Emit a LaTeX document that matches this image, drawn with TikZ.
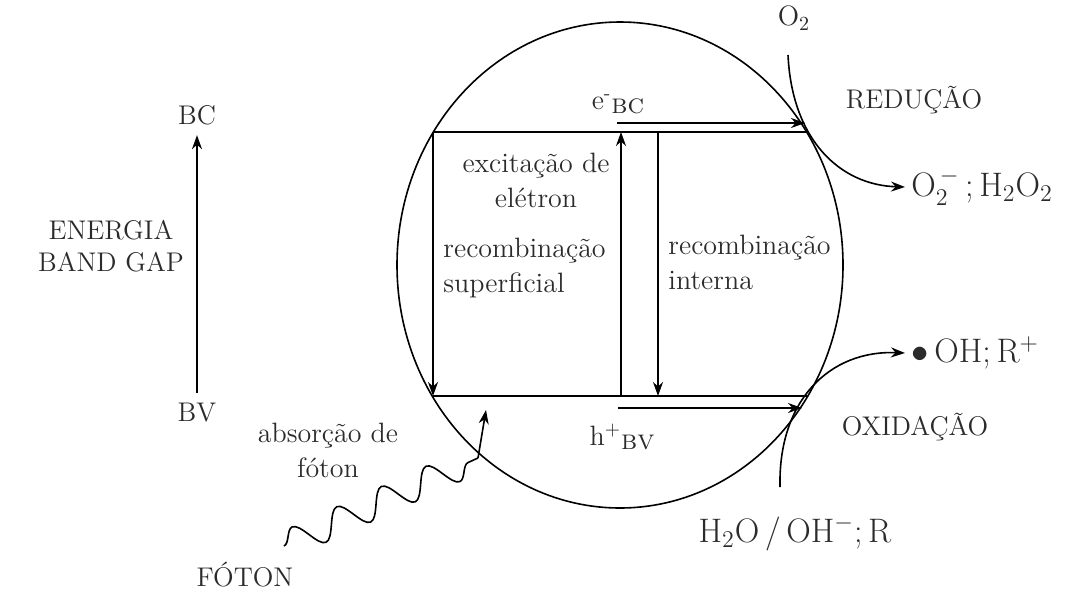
\documentclass[tikz,border=0pt]{standalone}
\usepackage{amsmath}
\usepackage{tikz}
\usetikzlibrary{arrows.meta,decorations.pathmorphing}
\definecolor{inkgrey}{HTML}{2B2B2B}

\begin{document}
\begin{tikzpicture}[
  x=0.5pt, y=-0.5pt,
  lbl/.style={font=\fontsize{14}{17.5}\selectfont\color{inkgrey}, inner sep=0pt},
  caplbl/.style={font=\fontsize{13.5}{16}\selectfont\color{inkgrey}, inner sep=0pt},
  chem/.style={font=\fontsize{17}{20}\selectfont\color{inkgrey}, inner sep=0pt},
  band/.style={line width=1pt},
  arr/.style={line width=0.8pt, -{Stealth[length=7pt, width=5pt]}},
]
\useasboundingbox (0,0) rectangle (1086,590);

% energy axis
\node[caplbl, inner sep=5pt] (bc) at (197,115) {BC};
\node[caplbl, inner sep=5pt] (bv) at (197,413) {BV};
\draw[arr] (bv) -- (bc);
\node[caplbl, align=center] (gap) at (111,246) {ENERGIA\\BAND GAP};

% particle
\draw[line width=0.8pt] (620,265) ellipse [x radius=223, y radius=243];

% bands
\coordinate (bcL) at (433,132);
\coordinate (bcR) at (807,132);
\coordinate (bvL) at (433,396);
\coordinate (bvR) at (807,396);
\draw[band] (bcL) -- (bcR);
\draw[band] (bvL) -- (bvR);

% transitions
\coordinate (exB) at (621,396);
\coordinate (exT) at (621,132);
\coordinate (inT) at (658,132);
\coordinate (inB) at (658,396);
\draw[arr] (bcL) -- (bvL);
\draw[arr] (exB) -- (exT);
\draw[arr] (inT) -- (inB);
\node[lbl, align=center] (exc) at (536,180) {excitação de\\elétron};
\node[lbl, align=left, anchor=west] (sup) at (443,268) {recombinação\\superficial};
\node[lbl, align=left, anchor=west] (int) at (668,262) {recombinação\\interna};

% carriers
\coordinate (eS) at (617,123);
\coordinate (eE) at (805,123);
\coordinate (hS) at (618,408);
\coordinate (hE) at (802,408);
\draw[arr] (eS) -- (eE);
\draw[arr] (hS) -- (hE);
\node[lbl] (eBC) at (618,104) {e\textsuperscript{-}\raisebox{-0.3ex}{\textsc{bc}}};
\node[lbl] (hBV) at (622,437) {h\textsuperscript{+}\raisebox{-0.3ex}{\textsc{bv}}};

% reduction
\node[lbl] (o2) at (794,18) {O$_2$};
\coordinate (o2s) at (788,55);
\node[chem, anchor=west, inner sep=3pt] (redp) at (905,187) {O$_2^{\,-}$\,;\,H$_2$O$_2$};
\draw[arr] (o2s) .. controls (792,140) and (840,185) .. (redp.west);
\node[caplbl] (red) at (914,100) {REDUÇÃO};

% oxidation
\node[chem] (h2o) at (795,533) {H$_2$O\,/\,OH$^-$;\,R};
\coordinate (h2os) at (780,487);
\node[chem, anchor=west, inner sep=3pt] (oxp) at (905,353) {$\bullet$\,OH;\,R$^+$};
\draw[arr] (h2os) .. controls (778,400) and (830,350) .. (oxp.west);
\node[caplbl] (oxi) at (915,427) {OXIDAÇÃO};

% photon
\node[caplbl] (fot) at (245,575) {FÓTON};
\node[lbl, align=center] (abs) at (328,450) {absorção de\\fóton};
\coordinate (phS) at (284,546);
\coordinate (phC) at (478,458);
\coordinate (phT) at (486,410);
\draw[line width=0.8pt, decorate, decoration={snake, amplitude=7pt, segment length=24.5pt}] (phS) -- (phC);
\draw[arr] (phC) -- (phT);
\end{tikzpicture}
\end{document}
